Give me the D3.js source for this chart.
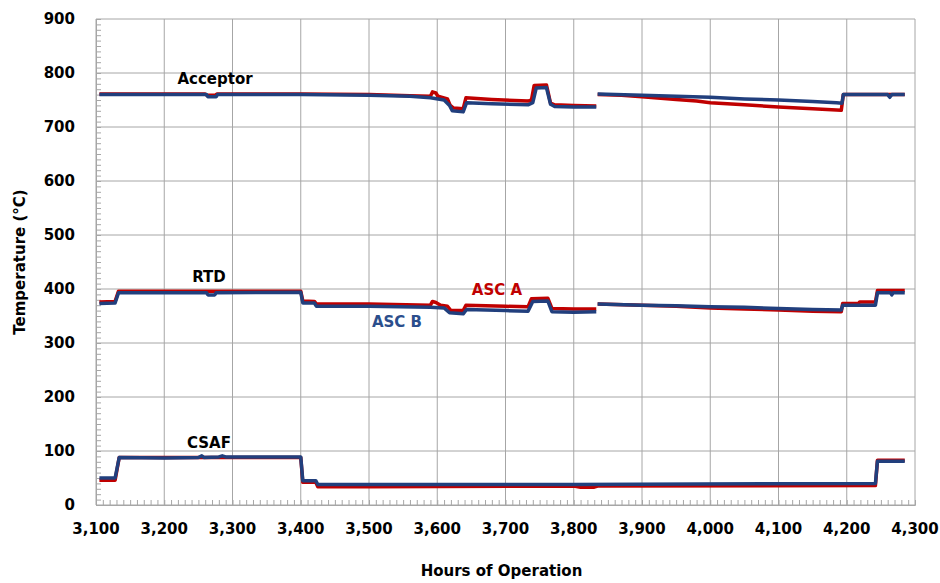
<!DOCTYPE html>
<html>
<head>
<meta charset="utf-8">
<script src="https://cdn.jsdelivr.net/npm/d3@7"></script>
<style>
  body { margin: 0; background: #fff; }
  text { font-family: "DejaVu Sans", sans-serif; font-weight: bold; }
</style>
</head>
<body>
<div id="chart"></div>
<script>
// Tick values
const xTicks = [3100, 3200, 3300, 3400, 3500, 3600, 3700, 3800, 3900, 4000, 4100, 4200, 4300];
const yTicks = [0, 100, 200, 300, 400, 500, 600, 700, 800, 900];

// ASC A (red) and ASC B (blue) readings, [hours, temperature]; segments split at the data gap
const acceptorA = [
  [[3105,761],[3260,761],[3262,759],[3275,759],[3277,761],[3400,761],[3500,760],[3560,758],[3590,757],
   [3593,765],[3598,763],[3601,757],[3615,752],[3619,740],[3624,735],[3638,734],[3642,754],[3680,751],
   [3733,748],[3738,750],[3742,777],[3760,778],[3766,744],[3772,741],[3800,740],[3833,739]],
  [[3835,760],[3870,759],[3900,756],[3950,751],[3980,748],[4000,745],[4050,741],[4100,737],[4150,734],
   [4192,731],[4195,760],[4285,760]]
];
const acceptorB = [
  [[3105,760],[3262,760],[3264,756],[3276,756],[3278,760],[3400,760],[3500,759],[3560,757],[3590,754],
   [3610,750],[3618,740],[3622,730],[3638,728],[3643,745],[3680,743],[3733,741],[3740,745],[3745,772],
   [3760,773],[3766,742],[3772,738],[3800,737],[3833,737]],
  [[3835,761],[3900,759],[3950,757],[4000,755],[4050,752],[4100,750],[4150,747],[4185,745],[4193,744],
   [4195,760],[4260,760],[4263,755],[4266,760],[4285,760]]
];
const rtdA = [
  [[3105,376],[3128,377],[3133,396],[3400,396],[3403,378],[3420,377],[3423,372],[3500,372],[3590,370],
   [3593,377],[3598,375],[3605,370],[3615,368],[3620,360],[3638,360],[3642,370],[3700,368],[3733,367],
   [3738,382],[3762,383],[3768,364],[3800,363],[3833,363]],
  [[3835,372],[3900,370],[3950,368],[4000,365],[4050,363],[4100,361],[4150,359],[4192,358],[4194,373],
   [4217,373],[4219,376],[4242,376],[4245,397],[4285,397]]
];
const rtdB = [
  [[3105,373],[3128,374],[3133,393],[3262,393],[3264,389],[3274,389],[3276,393],[3400,394],[3403,374],
   [3420,374],[3423,368],[3500,368],[3590,366],[3610,365],[3618,356],[3638,354],[3643,362],[3700,360],
   [3733,359],[3740,377],[3762,378],[3768,358],[3800,357],[3833,358]],
  [[3835,372],[3900,370],[3950,369],[4000,367],[4050,366],[4100,364],[4150,362],[4192,361],[4194,370],
   [4242,370],[4245,393],[4264,393],[4266,389],[4268,393],[4285,393]]
];
const csafA = [
  [[3105,46],[3128,46],[3134,88],[3400,88],[3403,42],[3422,42],[3425,34],[3500,34],[3800,35],[3810,33],
   [3830,33],[3835,35],[4242,36],[4245,83],[4285,83]]
];
const csafB = [
  [[3105,50],[3128,50],[3134,88],[3200,87],[3250,88],[3255,91],[3258,88],[3280,89],[3285,91],[3290,89],
   [3400,89],[3403,45],[3422,45],[3425,38],[3600,38],[3800,38],[4242,40],[4245,81],[4285,81]]
];

const width = 940, height = 583;
const margin = {top: 19, right: 25, bottom: 78, left: 96};
const w = width - margin.left - margin.right;
const h = height - margin.top - margin.bottom;

const red = "#C00000", blue = "#213F7D", grid = "#A6A6A6";

const svg = d3.select("#chart").append("svg")
  .attr("width", width)
  .attr("height", height);

const g = svg.append("g")
  .attr("transform", `translate(${margin.left},${margin.top})`);

const x = d3.scaleLinear().domain([3100, 4300]).range([0, w]);
const y = d3.scaleLinear().domain([0, 900]).range([h, 0]);

// Gridlines
g.append("g").selectAll("line").data(xTicks).join("line")
  .attr("x1", d => x(d)).attr("x2", d => x(d))
  .attr("y1", 0).attr("y2", h)
  .attr("stroke", grid);
g.append("g").selectAll("line").data(yTicks).join("line")
  .attr("x1", 0).attr("x2", w)
  .attr("y1", d => y(d)).attr("y2", d => y(d))
  .attr("stroke", grid);

// Minor ticks pointing into the plot
g.append("g").call(d3.axisLeft(y).ticks(90).tickSize(-5).tickFormat(""))
  .call(a => a.select(".domain").attr("stroke", grid))
  .call(a => a.selectAll(".tick line").attr("stroke", grid));
g.append("g").attr("transform", `translate(0,${h})`)
  .call(d3.axisBottom(x).ticks(120).tickSize(-5).tickFormat(""))
  .call(a => a.select(".domain").attr("stroke", grid))
  .call(a => a.selectAll(".tick line").attr("stroke", grid));

// Tick labels
g.append("g").selectAll("text").data(yTicks).join("text")
  .attr("x", -21).attr("y", d => y(d)).attr("dy", "0.36em")
  .attr("text-anchor", "end").attr("font-size", 15)
  .text(d => d);
g.append("g").selectAll("text").data(xTicks).join("text")
  .attr("x", d => x(d)).attr("y", h + 29)
  .attr("text-anchor", "middle").attr("font-size", 15)
  .text(d3.format(","));

// Axis titles
svg.append("text")
  .attr("x", margin.left + w / 2 - 4).attr("y", 576)
  .attr("text-anchor", "middle").attr("font-size", 15)
  .text("Hours of Operation");
svg.append("text")
  .attr("transform", `translate(25,${margin.top + h / 2}) rotate(-90)`)
  .attr("text-anchor", "middle").attr("font-size", 15)
  .text("Temperature (°C)");

// Lines
const line = d3.line().x(d => x(d[0])).y(d => y(d[1]));
function draw(segments, color) {
  g.append("g").selectAll("path").data(segments).join("path")
    .attr("d", line)
    .attr("fill", "none")
    .attr("stroke", color)
    .attr("stroke-width", 3.5)
    .attr("stroke-linejoin", "round");
}
draw(acceptorA, red);
draw(rtdA, red);
draw(csafA, red);
draw(acceptorB, blue);
draw(rtdB, blue);
draw(csafB, blue);

// Annotations
svg.append("text").attr("x", 215).attr("y", 84).attr("text-anchor", "middle")
  .attr("font-size", 15).text("Acceptor");
svg.append("text").attr("x", 209).attr("y", 282).attr("text-anchor", "middle")
  .attr("font-size", 15).text("RTD");
svg.append("text").attr("x", 209).attr("y", 448).attr("text-anchor", "middle")
  .attr("font-size", 15).text("CSAF");
svg.append("text").attr("x", 497).attr("y", 295).attr("text-anchor", "middle")
  .attr("font-size", 15).attr("fill", red).text("ASC A");
svg.append("text").attr("x", 397).attr("y", 327).attr("text-anchor", "middle")
  .attr("font-size", 15).attr("fill", "#2B4E8C").text("ASC B");
</script>
</body>
</html>
